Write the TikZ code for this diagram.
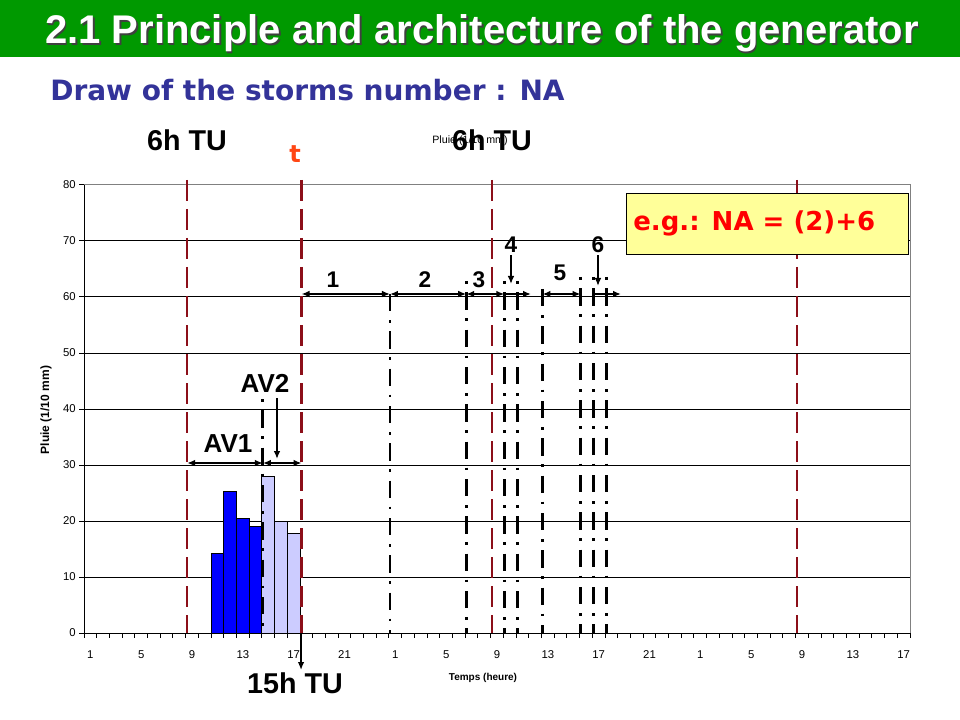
\documentclass[tikz,border=0pt]{standalone}
\usepackage{fontspec}
\setmainfont{Liberation Sans}
\newfontfamily\comic{DejaVu Sans}
\usetikzlibrary{arrows.meta}
\definecolor{titlegreen}{RGB}{0,153,0}
\definecolor{subblue}{RGB}{51,51,153}
\definecolor{darkred}{RGB}{140,15,25}
\definecolor{barblue}{RGB}{0,0,255}
\definecolor{barlight}{RGB}{204,204,255}
\definecolor{boxyellow}{RGB}{255,255,153}
\definecolor{tred}{RGB}{255,70,20}
\newcommand\catx[1]{(84+(#1)*12.708)}
\newcommand\vy[1]{(633-(#1)*5.6)}
\tikzset{
  reddash/.style={draw=darkred, line width=2pt, dash pattern=on 15.75pt off 6pt},
  dashfirst/.style={draw=black, line width=2.2pt, dash pattern=on 13pt off 6.5pt on 2pt off 6.5pt},
  dotfirst/.style={draw=black, line width=2.2pt, dash pattern=on 2pt off 6.5pt on 13pt off 6.5pt},
  dimarrow/.style={draw=black, line width=1.5pt, {Latex[length=6pt,width=5pt]}-{Latex[length=6pt,width=5pt]}},
  rarrow/.style={draw=black, line width=1.5pt, -{Latex[length=6pt,width=5pt]}},
  downarrow/.style={draw=black, line width=1.2pt, -{Latex[length=6pt,width=5pt]}},
  biglabel/.style={font=\fontsize{21.5pt}{24pt}\selectfont\bfseries, inner sep=0},
  numlabel/.style={font=\fontsize{17pt}{20pt}\selectfont\bfseries, inner sep=0},
  ticklabel/.style={font=\fontsize{8.5pt}{10pt}\selectfont, inner sep=0}
}
\begin{document}
\begin{tikzpicture}[x=0.75pt,y=-0.75pt]
\useasboundingbox (0,0) rectangle (960,720);
% title bar
\fill[titlegreen] (0,0) rectangle (960,57);
\node[anchor=base west, inner sep=0, text=black!75, font=\fontsize{30pt}{34pt}\selectfont\bfseries] (titleshadow) at (46.5,45.5) {2.1 Principle and architecture of the generator};
\node[anchor=base west, inner sep=0, text=white, font=\fontsize{30pt}{34pt}\selectfont\bfseries] (title) at (45,44) {2.1 Principle and architecture of the generator};
\node[anchor=base west, inner sep=0, text=subblue, font=\comic\fontsize{21pt}{24pt}\selectfont\bfseries] (subtitle) at (50,101) {Draw of the storms number : NA};
% plot frame and grid
\foreach \v in {10,20,...,70} \draw[black, line width=0.75pt] (84,{\vy{\v}}) -- (910,{\vy{\v}});
\draw[gray, line width=0.75pt] (84,185) -- (910,185) -- (910,633);
\draw[black, line width=0.75pt] (84,185) -- (84,633) -- (910,633);
\foreach \v in {0,10,...,80} {
  \draw[black, line width=0.75pt] (79,{\vy{\v}}) -- (84,{\vy{\v}});
  \node[ticklabel, anchor=east] (yl\v) at (76,{\vy{\v}}) {\v};
}
\foreach \k in {0,...,65} \draw[black, line width=0.75pt] ({\catx{\k}},633) -- ({\catx{\k}},638);
\foreach \i/\l in {0/1,4/5,8/9,12/13,16/17,20/21,24/1,28/5,32/9,36/13,40/17,44/21,48/1,52/5,56/9,60/13,64/17}
  \node[ticklabel] (xl\i) at ({\catx{\i+0.5}},655) {\l};
\node[font=\fontsize{9pt}{10pt}\selectfont\bfseries, rotate=90, inner sep=0] (ytitle) at (46,410) {Pluie (1/10 mm)};
\node[font=\fontsize{7.5pt}{9pt}\selectfont\bfseries, inner sep=0] (xtitle) at (483,678) {Temps (heure)};
\node[font=\fontsize{8pt}{9pt}\selectfont, inner sep=0] (ctitle) at (470,141) {Pluie (1/10 mm)};
% bars
\foreach \k/\v/\c in {10/14.2/barblue,11/25.2/barblue,12/20.5/barblue,13/19/barblue,14/28/barlight,15/20/barlight,16/17.8/barlight}
  \draw[black, line width=0.75pt, fill=\c] ({\catx{\k}},633) rectangle ({\catx{\k+1}},{\vy{\v}});
% red dashed lines
\foreach \k [count=\n] in {8,17,32,56} {
  \coordinate (rt\n) at ({\catx{\k}+1.5},180);
  \coordinate (rb\n) at ({\catx{\k}+1.5},633);
  \draw[reddash] (rt\n) -- (rb\n);
}
% dash-dot lines
\foreach \k/\t/\s in {14/399/dotfirst,24/294/dashfirst,30/281/dotfirst,33/281/dotfirst,34/281/dotfirst,36/289/dashfirst,39/277/dotfirst,40/277/dotfirst,41/277/dotfirst} {
  \coordinate (dt\k) at ({\catx{\k}+1},\t);
  \coordinate (db\k) at ({\catx{\k}+1},633);
  \draw[\s] (dt\k) -- (db\k);
}
% example box
\node[draw=black, line width=1pt, fill=boxyellow, minimum width=211.5pt, minimum height=45.75pt, inner sep=0, anchor=north west] (egbox) at (626,193) {};
\node[anchor=base west, inner sep=0, text=red, font=\comic\fontsize{19.5pt}{22pt}\selectfont\bfseries] (egtext) at (633,231) {e.g.: NA = (2)+6};
% interval arrows at level 60
\coordinate (a0) at ({\catx{17}+1.5},294);
\coordinate (a1) at ({\catx{24}+1},294);
\coordinate (a2) at ({\catx{30}+1},294);
\coordinate (a3) at ({\catx{33}+1},294);
\coordinate (a4) at (531,294);
\coordinate (a5) at ({\catx{36}+1},294);
\coordinate (a6) at ({\catx{39}+1},294);
\coordinate (a7) at ({\catx{40}+1},294);
\coordinate (a8) at (621,294);
\draw[dimarrow] (a0) -- (a1);
\draw[dimarrow] (a1) -- (a2);
\draw[dimarrow] (a2) -- (a3);
\draw[rarrow] (a3) -- (a4);
\draw[dimarrow] (a5) -- (a6);
\draw[rarrow] (a7) -- (a8);
\node[numlabel, anchor=base] (n1) at (333,287) {1};
\node[numlabel, anchor=base] (n2) at (425,287) {2};
\node[numlabel, anchor=base] (n3) at (479,287) {3};
\node[numlabel, anchor=base] (n4) at (511,253) {4};
\node[numlabel, anchor=base] (n5) at (560,281) {5};
\node[numlabel, anchor=base] (n6) at (598,253) {6};
\coordinate (n4e) at (511,284);
\coordinate (n6e) at (598,286);
\draw[downarrow] (n4.south) ++(0,2) -- (n4e);
\draw[downarrow] (n6.south) ++(0,2) -- (n6e);
% AV arrows at level 30
\coordinate (v0) at ({\catx{8}+1.5},463);
\coordinate (v1) at ({\catx{14}+1},463);
\coordinate (v2) at ({\catx{17}+1.5},463);
\draw[dimarrow] (v0) -- (v1);
\draw[dimarrow] (v1) -- (v2);
\node[font=\fontsize{19.5pt}{22pt}\selectfont\bfseries, inner sep=0, anchor=base] (av1) at (228,452) {AV1};
\node[font=\fontsize{19.5pt}{22pt}\selectfont\bfseries, inner sep=0, anchor=base] (av2) at (265,392) {AV2};
\coordinate (av2s) at (277,398);
\coordinate (av2e) at (277,459);
\draw[downarrow] (av2s) -- (av2e);
% time labels
\node[biglabel, anchor=base] (six1) at (187,151) {6h TU};
\node[biglabel, anchor=base] (six2) at (492,151) {6h TU};
\node[anchor=base, inner sep=0, text=tred, font=\comic\fontsize{18pt}{20pt}\selectfont\bfseries] (tlab) at (295,163) {t};
\node[biglabel, anchor=base] (fifteen) at (295,693) {15h TU};
\coordinate (fs) at ({\catx{17}+1},633);
\coordinate (fe) at ({\catx{17}+1},670);
\draw[downarrow, line width=1.5pt] (fs) -- (fe);
\end{tikzpicture}
\end{document}
